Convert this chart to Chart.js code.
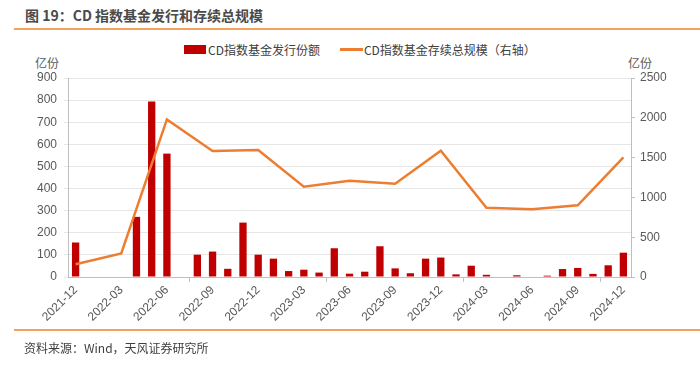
<!DOCTYPE html>
<html><head><meta charset="utf-8">
<script src="https://cdn.jsdelivr.net/npm/chart.js@4.4.1/dist/chart.umd.min.js"></script>
<style>
body{margin:0;background:#fff;}
#wrap{position:relative;width:700px;height:370px;overflow:hidden;font-family:"Noto Sans CJK SC","Liberation Sans",sans-serif;color:#404040;}
#c{position:absolute;left:0;top:0;}
#title{position:absolute;left:25px;top:5px;font-size:14px;font-weight:bold;color:#4a4a4a;white-space:nowrap;}
.rule{position:absolute;left:14px;width:686px;height:2px;background:#F5A35C;}
#src{position:absolute;left:24px;top:339px;font-size:12px;color:#404040;white-space:nowrap;}
.unit{position:absolute;top:54px;font-size:12px;color:#595959;}
#legend{position:absolute;top:39px;left:184px;font-size:12px;color:#404040;white-space:nowrap;}
#legend span{display:inline-block;vertical-align:middle;}
.box{width:22px;height:9px;background:#C00000;margin-right:2px;}
.ln{width:23px;height:3px;background:#ED7D31;margin-left:20px;margin-right:1px;}
</style></head>
<body><div id="wrap">
<div id="title">图 19：CD 指数基金发行和存续总规模</div>
<div class="rule" style="top:28px"></div>
<div id="legend"><span class="box"></span><span>CD指数基金发行份额</span><span class="ln"></span><span>CD指数基金存续总规模（右轴）</span></div>
<div class="unit" style="left:35px">亿份</div>
<div class="unit" style="left:628px">亿份</div>
<canvas id="c" width="700" height="370"></canvas>
<div class="rule" style="top:329px"></div>
<div id="src">资料来源：Wind，天风证券研究所</div>
</div>
<script>
const categories = ["2021-12","2022-01","2022-02","2022-03","2022-04","2022-05","2022-06","2022-07","2022-08","2022-09","2022-10","2022-11","2022-12","2023-01","2023-02","2023-03","2023-04","2023-05","2023-06","2023-07","2023-08","2023-09","2023-10","2023-11","2023-12","2024-01","2024-02","2024-03","2024-04","2024-05","2024-06","2024-07","2024-08","2024-09","2024-10","2024-11","2024-12"];
const issuance = [156,0,0,0,272,794,558,0,101,115,37,246,101,83,27,33,20,130,15,24,139,39,17,83,88,12,51,10,0,8,0,6,36,41,14,53,110];
const totalScale = [160,null,null,295,null,null,1980,null,null,1583,null,null,1595,null,null,1134,null,null,1210,null,null,1172,null,null,1587,null,null,870,null,null,850,null,null,900,null,null,1504];
const leftTicks = {min:0,max:900,step:100};
const rightTicks = {min:0,max:2500,step:500};

const tickFont = {family:"'Liberation Sans', Arial, sans-serif", size:12};
new Chart(document.getElementById('c'), {
  data:{
    labels: categories,
    datasets:[
      {type:'line', label:'CD指数基金存续总规模（右轴）', data: totalScale, yAxisID:'y1', borderColor:'#ED7D31', backgroundColor:'#ED7D31', borderWidth:2.5, pointRadius:0, spanGaps:true, tension:0, order:0},
      {type:'bar', label:'CD指数基金发行份额', data: issuance, yAxisID:'y', backgroundColor:'#C00000', categoryPercentage:0.96, barPercentage:0.5, order:1}
    ]
  },
  options:{
    responsive:false, animation:false,
    layout:{padding:{top:78,bottom:43,left:0,right:0}},
    plugins:{legend:{display:false}, tooltip:{enabled:false}},
    scales:{
      x:{
        offset:true,
        grid:{offset:true, drawOnChartArea:false, drawTicks:true, tickLength:5,
          tickColor: ctx => (ctx.index % 3 === 0 ? '#bfbfbf' : 'rgba(0,0,0,0)'), color:'#bfbfbf'},
        border:{color:'#bfbfbf'},
        ticks:{autoSkip:false, maxRotation:45, minRotation:45, color:'#595959', font:tickFont, padding:1,
          callback:(v,i)=> (i % 3 === 0 ? categories[i] : null)},
        afterFit: s => { s.height = 50; }
      },
      y:{
        position:'left', min:leftTicks.min, max:leftTicks.max,
        ticks:{stepSize:leftTicks.step, color:'#595959', font:tickFont, padding:7, callback: v => String(v)},
        grid:{color:'#e6e6e6', tickLength:4, tickColor:'#e6e6e6'},
        border:{color:'#bfbfbf'},
        afterFit: s => { s.width = 68; }
      },
      y1:{
        position:'right', min:rightTicks.min, max:rightTicks.max,
        ticks:{stepSize:rightTicks.step, color:'#595959', font:tickFont, padding:5, callback: v => String(v)},
        grid:{drawOnChartArea:false, tickLength:4, color:'#bfbfbf'},
        border:{color:'#bfbfbf'},
        afterFit: s => { s.width = 69; }
      }
    }
  }
});
</script>
</body></html>
